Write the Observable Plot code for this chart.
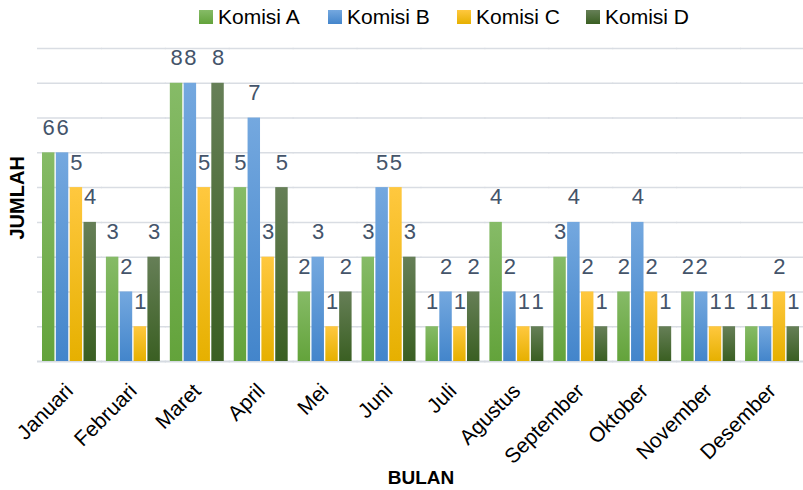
<!DOCTYPE html>
<html><head><meta charset="utf-8">
<script src="https://cdn.jsdelivr.net/npm/d3@7"></script>
<script src="https://cdn.jsdelivr.net/npm/@observablehq/plot@0.6"></script>
<style>
body{margin:0;background:#fff;font-family:"Liberation Sans",Arial,sans-serif;}
#wrap{position:relative;width:803px;height:490px;overflow:hidden;}
#legend{position:absolute;left:199px;top:5px;display:flex;}
.item{display:flex;align-items:center;width:129px;font-size:21px;color:#000;}
.sw{width:14px;height:14px;margin-right:5px;}
.title{position:absolute;font-weight:bold;font-size:20px;color:#000;}
</style></head>
<body><div id="wrap"><div id="chart"></div>
<div id="legend"></div>
<div class="title" id="ytitle" style="left:-18px;top:193px;transform:rotate(-90deg);width:70px;text-align:center;">JUMLAH</div>
<div class="title" id="xtitle" style="left:371px;top:467px;width:100px;text-align:center;font-size:19px;">BULAN</div>
</div>
<script>
const months = ["Januari","Februari","Maret","April","Mei","Juni","Juli","Agustus","September","Oktober","November","Desember"];
const seriesNames = ["Komisi A","Komisi B","Komisi C","Komisi D"];
const komisiA = [6,3,8,5,2,3,1,4,3,2,2,1];
const komisiB = [6,2,8,7,3,5,2,2,4,4,2,1];
const komisiC = [5,1,5,3,1,5,1,1,2,2,1,2];
const komisiD = [4,3,8,5,2,3,2,1,1,1,1,1];
const gridValues = [1,2,3,4,5,6,7,8,9];

const seriesValues = [komisiA, komisiB, komisiC, komisiD];
const data = [];
months.forEach((m, i) => seriesNames.forEach((s, j) => data.push({month: m, series: s, value: seriesValues[j][i]})));

const grads = [
  {id:"gA", top:"#86bb67", bot:"#63a33b"},
  {id:"gB", top:"#74a8df", bot:"#4385cb"},
  {id:"gC", top:"#ffc83f", bot:"#e6b000"},
  {id:"gD", top:"#667f57", bot:"#3a5f22"}
];

const chart = Plot.plot({
  width: 803, height: 490,
  marginLeft: 38, marginRight: 0, marginTop: 48, marginBottom: 129,
  style: {fontFamily: '"Liberation Sans", Arial, sans-serif', background: "#fff", overflow: "hidden"},
  fx: {domain: months, paddingInner: 0.156, paddingOuter: 0.0625, round: false, align: 0.5, label: null},
  x: {domain: seriesNames, paddingInner: 0.1, paddingOuter: 0, round: false, axis: null},
  y: {domain: [0, 9], axis: null},
  color: {domain: seriesNames, range: grads.map(g => `url(#${g.id})`)},
  marks: [
    Plot.ruleY(gridValues, {y: d => d, stroke: "#d9dde3", strokeWidth: 1.5, insetLeft: -5, insetRight: -6}),
    Plot.ruleY([0], {stroke: "#d6dbe2", strokeWidth: 2, insetLeft: -5, insetRight: -6}),
    Plot.barY(data, {fx: "month", x: "series", y: "value", fill: "series"}),
    Plot.text(data, {fx: "month", x: "series", y: "value", text: d => String(d.value), lineAnchor: "bottom", dy: -18, fontSize: 22, fill: "#44546a"}),
    Plot.axisFx({anchor: "bottom", tickRotate: -45, tickSize: 0, tickPadding: 26, fontSize: 21, label: null, fill: "#000"})
  ]
});
document.getElementById("chart").appendChild(chart);

const svg = d3.select(chart.tagName.toLowerCase() === "svg" ? chart : chart.querySelector("svg"));
const defs = svg.insert("defs", ":first-child");
grads.forEach(g => {
  const lg = defs.append("linearGradient").attr("id", g.id).attr("x1", 0).attr("y1", 0).attr("x2", 0).attr("y2", 1);
  lg.append("stop").attr("offset", "0%").attr("stop-color", g.top);
  lg.append("stop").attr("offset", "100%").attr("stop-color", g.bot);
});

const legend = d3.select("#legend");
seriesNames.forEach((s, i) => {
  const it = legend.append("div").attr("class", "item");
  it.append("div").attr("class", "sw").style("background", `linear-gradient(${grads[i].top}, ${grads[i].bot})`);
  it.append("span").text(s);
});
</script></body></html>
